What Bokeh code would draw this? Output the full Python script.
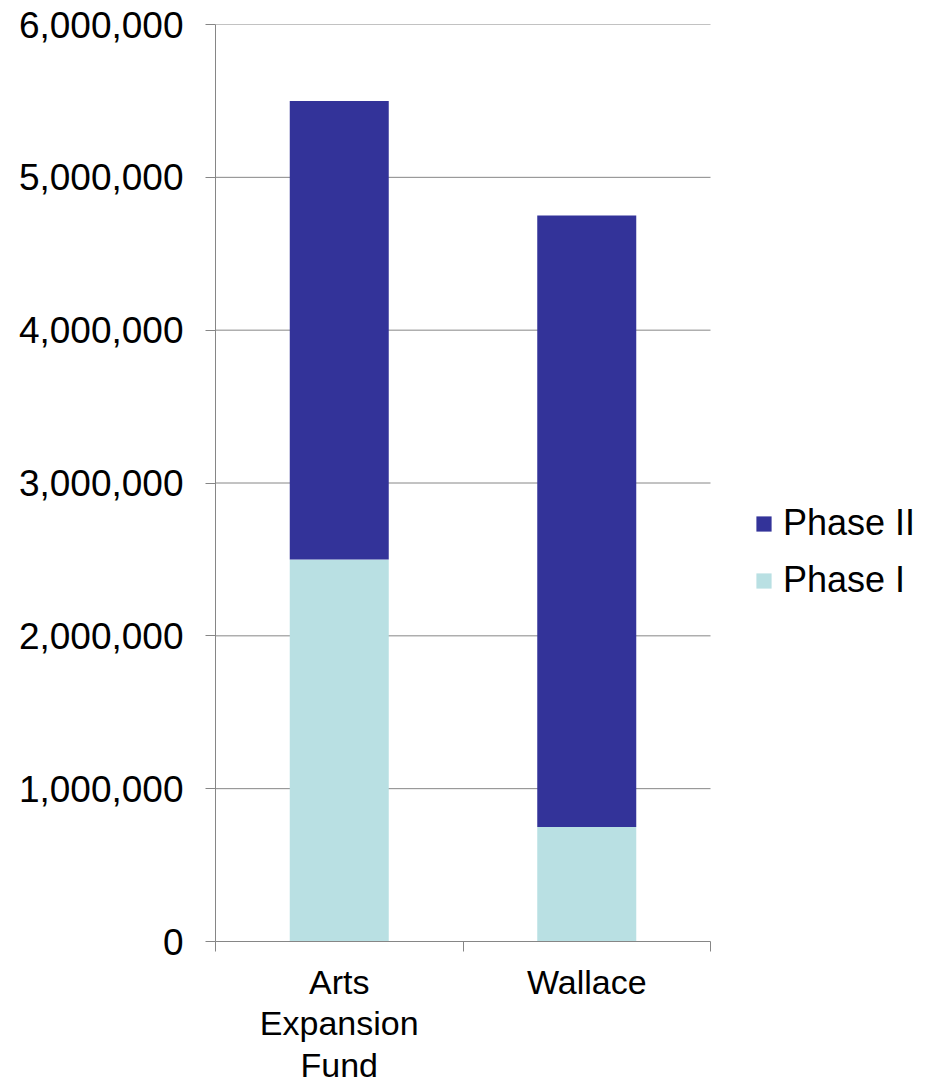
from bokeh.plotting import figure
from bokeh.models import ColumnDataSource, FixedTicker, NumeralTickFormatter, Legend, LegendItem, Range1d
from bokeh.embed import file_html
from bokeh.resources import INLINE

categories = ["Arts\nExpansion\nFund", "Wallace"]
phase_1 = [2500000, 750000]
phase_2 = [3000000, 4000000]
series = ["Phase I", "Phase II"]
colors = ["#B9E0E3", "#333399"]
y_ticks = [0, 1000000, 2000000, 3000000, 4000000, 5000000, 6000000]

FONT = "Liberation Sans"
GRAY = "#868686"
n = len(categories)
xs = [i + 0.5 for i in range(n)]
src = ColumnDataSource(dict(x=xs, p1=phase_1, p2=phase_2))

W, H = 930, 1087
LEFT, TOP, BOTTOM = 215, 24, 146
PLOT_W = 495  # width of the category area in px
frame_w = W - LEFT
x_end = n * frame_w / PLOT_W

p = figure(width=W, height=H, output_backend="svg", toolbar_location=None,
           x_range=Range1d(0, x_end), y_range=Range1d(0, 6000000),
           min_border_left=LEFT, min_border_top=TOP, min_border_right=0, min_border_bottom=BOTTOM)
p.outline_line_color = None
p.xgrid.grid_line_color = None
p.ygrid.grid_line_color = None

# horizontal gridlines limited to the category area
gsrc = ColumnDataSource(dict(y=y_ticks[1:], x0=[0] * (len(y_ticks) - 1), x1=[n] * (len(y_ticks) - 1)))
p.segment(x0="x0", x1="x1", y0="y", y1="y", source=gsrc, line_color=GRAY, line_width=1)

rs = p.vbar_stack(["p1", "p2"], x="x", width=0.4, color=colors, line_color=None, source=src)

# axes
p.xaxis.bounds = (0, n)
p.xaxis.ticker = FixedTicker(ticks=xs, minor_ticks=list(range(n + 1)))
p.xaxis.major_label_overrides = {x: c for x, c in zip(xs, categories)}
p.xaxis.major_tick_line_color = None
p.xaxis.minor_tick_out = 10
p.xaxis.minor_tick_in = 0
p.xaxis.minor_tick_line_color = GRAY
p.xaxis.axis_line_color = GRAY
p.xaxis.major_label_standoff = 11
p.xaxis.major_label_text_font = FONT
p.xaxis.major_label_text_font_size = "34px"
p.xaxis.major_label_text_line_height = 1.1
p.xaxis.major_label_text_color = "black"

p.yaxis.ticker = FixedTicker(ticks=y_ticks)
p.yaxis.formatter = NumeralTickFormatter(format="0,0")
p.yaxis.major_tick_out = 10
p.yaxis.major_tick_in = 0
p.yaxis.minor_tick_line_color = None
p.yaxis.major_tick_line_color = GRAY
p.yaxis.axis_line_color = GRAY
p.yaxis.major_label_standoff = 22
p.yaxis.major_label_text_font = FONT
p.yaxis.major_label_text_font_size = "37px"
p.yaxis.major_label_text_color = "black"

legend = Legend(items=[LegendItem(label=series[1], renderers=[rs[1]]),
                       LegendItem(label=series[0], renderers=[rs[0]])],
                location=(539, 340), orientation="vertical",
                glyph_width=19, glyph_height=19, label_standoff=10,
                label_text_font=FONT, label_text_font_size="36px", label_text_color="black",
                spacing=15, padding=0, margin=0, border_line_color=None, background_fill_alpha=0)
p.add_layout(legend, "center")

open("out.html", "w").write(file_html(p, INLINE))
